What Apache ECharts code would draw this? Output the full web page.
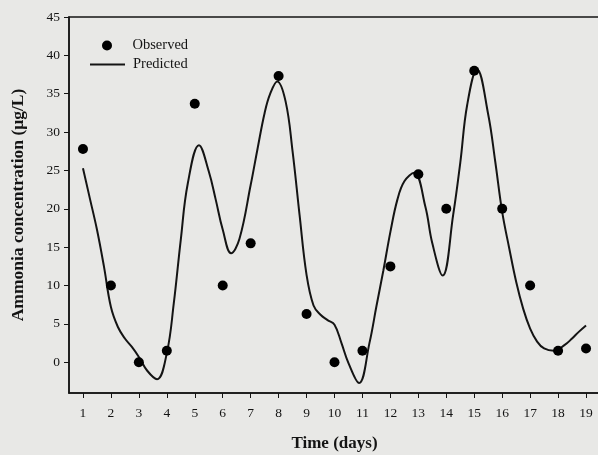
<!DOCTYPE html>
<html>
<head>
<meta charset="utf-8">
<script src="https://cdn.jsdelivr.net/npm/echarts@6/dist/echarts.min.js"></script>
<style>
html,body{margin:0;padding:0;background:#e8e8e6;}
#chart{width:598px;height:455px;}
</style>
</head>
<body>
<div id="chart"></div>
<script>
// Observed data
var obsDays = [1,2,3,4,5,6,7,8,9,10,11,12,13,14,15,16,17,18,19];
var obsValues = [27.8,10,0,1.5,33.7,10,15.5,37.3,6.3,0,1.5,12.5,24.5,20,38,20,10,1.5,1.8];
// Predicted curve (including its turning points)
var predDays = [1,1.25,1.5,1.75,2,2.25,2.5,2.75,3,3.3,3.65,4,4.25,4.5,4.75,5.15,5.5,5.75,6,6.3,6.6,7,7.25,7.5,7.7,7.95,8.25,8.5,8.75,9,9.25,9.5,9.75,10,10.25,10.5,10.88,11.25,11.5,11.75,12,12.25,12.5,12.85,13.25,13.5,13.87,14.25,14.5,14.75,15.1,15.5,15.75,16,16.25,16.5,16.75,17,17.25,17.5,17.85,18.25,18.5,18.75,19];
var predValues = [25.3,21.3,17.3,12.5,7.2,4.6,3.1,2.0,0.7,-1.1,-2.2,1.2,7.7,16.0,23.3,28.3,24.9,21.2,17.3,14.2,16.1,23.1,27.9,32.5,35.0,36.6,34.0,27.5,19.2,11.4,7.4,6.2,5.5,4.9,2.5,-0.1,-2.7,2.5,7.3,12.0,17.0,21.2,23.6,24.7,20.3,15.5,11.3,19.3,26.0,33.6,38.2,32.3,26.2,19.6,14.9,10.5,7.0,4.4,2.7,1.8,1.5,2.3,3.1,4.0,4.8];
var xTicks = [1,2,3,4,5,6,7,8,9,10,11,12,13,14,15,16,17,18,19];
var yTicks = [0,5,10,15,20,25,30,35,40,45];

var serif = '"Liberation Serif","DejaVu Serif",serif';
var ink = '#141414';

var obsData = obsDays.map(function(d,i){return [d, obsValues[i]];});
var predData = predDays.map(function(d,i){return [d, predValues[i]];});

var chart = echarts.init(document.getElementById('chart'));
chart.setOption({
  backgroundColor: '#e8e8e6',
  animation: false,
  grid: {left: 69, top: 17, right: -2, bottom: 62, outerBoundsMode: 'none', containLabel: false,
         show: true, borderColor: ink, borderWidth: 1.5, backgroundColor: 'transparent'},
  legend: [
    {
      orient: 'vertical', left: 97, top: 33, itemWidth: 35, itemHeight: 10,
      textStyle: {fontFamily: serif, fontSize: 14.5, color: ink, padding: [0,0,0,3]},
      data: [{name: 'Observed', icon: 'circle'}]
    },
    {
      orient: 'vertical', left: 85, top: 52, itemWidth: 35, itemHeight: 2,
      textStyle: {fontFamily: serif, fontSize: 14.5, color: ink, padding: [0,0,0,3]},
      data: [{name: 'Predicted', icon: 'rect'}]
    }
  ],
  xAxis: {
    type: 'value', min: 0.5, max: 19.5,
    name: 'Time (days)', nameLocation: 'middle', nameGap: 42,
    nameTextStyle: {fontFamily: serif, fontSize: 17, fontWeight: 'bold', color: ink},
    axisLine: {onZero: false, lineStyle: {color: ink, width: 1.5}},
    axisTick: {show: true, length: 5, inside: false, customValues: xTicks, lineStyle: {color: ink}},
    axisLabel: {customValues: xTicks, fontFamily: serif, fontSize: 13.5, color: ink, margin: 13},
    splitLine: {show: false}
  },
  yAxis: {
    type: 'value', min: -4, max: 45,
    name: 'Ammonia concentration (μg/L)', nameLocation: 'middle', nameGap: 42,
    nameTextStyle: {fontFamily: serif, fontSize: 17.5, fontWeight: 'bold', color: ink},
    axisLine: {show: true, onZero: false, lineStyle: {color: ink, width: 1.5}},
    axisTick: {show: true, length: 5, inside: false, customValues: yTicks, lineStyle: {color: ink}},
    axisLabel: {customValues: yTicks, fontFamily: serif, fontSize: 13.5, color: ink, margin: 9},
    splitLine: {show: false}
  },
  series: [
    {name: 'Observed', type: 'scatter', data: obsData, symbolSize: 10, itemStyle: {color: '#000', opacity: 1}, z: 3},
    {name: 'Predicted', type: 'line', data: predData, smooth: 0.4, showSymbol: false, symbol: 'none',
     lineStyle: {color: ink, width: 2}, itemStyle: {color: ink}, z: 2}
  ]
});
</script>
</body>
</html>
